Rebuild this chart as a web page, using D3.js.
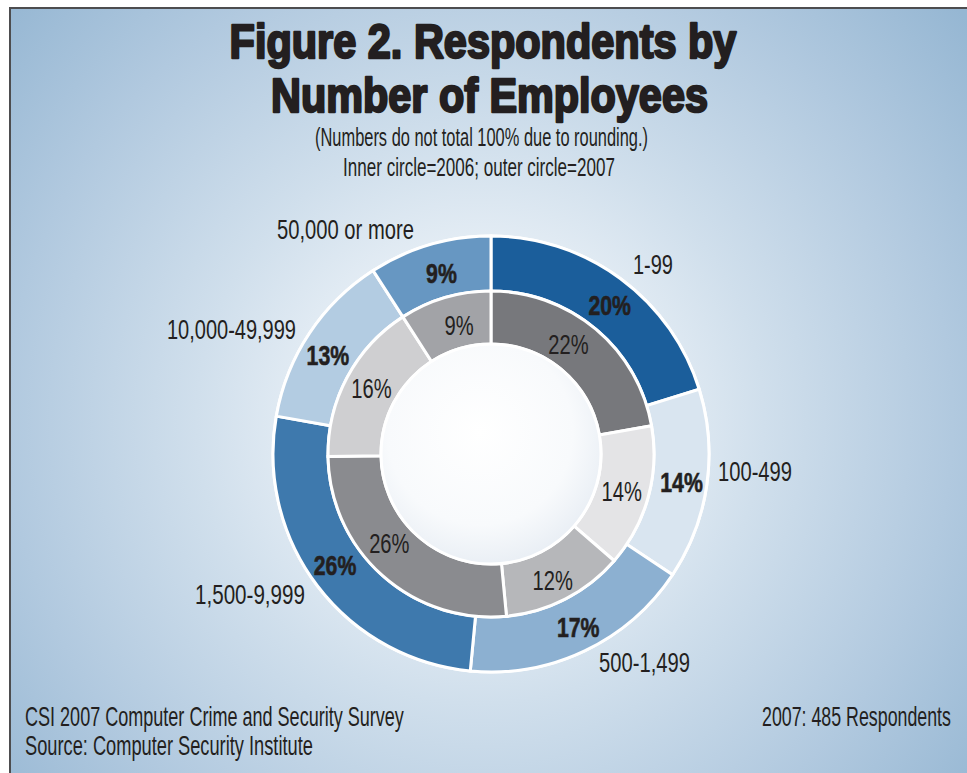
<!DOCTYPE html>
<html>
<head>
<meta charset="utf-8">
<script src="https://cdn.jsdelivr.net/npm/d3@7/dist/d3.min.js"></script>
<style>
  html, body { margin: 0; padding: 0; background: #ffffff; }
  svg { display: block; }
  text { font-family: "Liberation Sans Narrow", "Liberation Sans", Arial, sans-serif; fill: #231f20; }
</style>
</head>
<body>
<svg id="chart" width="967" height="773"></svg>
<script>
// Company size bands (number of employees)
const categories = ["1-99", "100-499", "500-1,499", "1,500-9,999", "10,000-49,999", "50,000 or more"];
// Share of respondents, percent (outer ring = 2007, inner ring = 2006)
const values2007 = [20, 14, 17, 26, 13, 9];
const values2006 = [22, 14, 12, 26, 16, 9];

const outerColors = ["#1b5e9b", "#d9e5f0", "#8cb0d1", "#3e79ad", "#b3cce2", "#6797c2"];
const innerColors = ["#77787c", "#e4e4e6", "#b6b7ba", "#8a8b8f", "#cfcfd1", "#a2a3a7"];

const W = 967, H = 773;
const cx = 491, cy = 454;
const rOuter = [163, 218];
const rInner = [110, 163];

const svg = d3.select("#chart");
const defs = svg.append("defs");

// backdrop: pale centre fading to steel blue towards the edges
const bg = defs.append("radialGradient").attr("id", "bgGrad")
  .attr("gradientUnits", "userSpaceOnUse")
  .attr("cx", 480).attr("cy", 420).attr("r", 630);
[[0, "#ffffff"], [0.12, "#f6f9fc"], [0.45, "#d0dfec"], [0.75, "#b1c9df"], [1, "#96b7d3"]]
  .forEach(([o, c]) => bg.append("stop").attr("offset", o).attr("stop-color", c));

const hole = defs.append("radialGradient").attr("id", "holeGrad")
  .attr("cx", "0.45").attr("cy", "0.4").attr("r", "0.65");
[[0, "#ffffff"], [0.65, "#f8fafc"], [1, "#e6ecf3"]]
  .forEach(([o, c]) => hole.append("stop").attr("offset", o).attr("stop-color", c));

svg.append("rect").attr("x", 10).attr("y", 8).attr("width", W - 10).attr("height", H - 8)
  .attr("fill", "url(#bgGrad)");
svg.append("path").attr("d", `M10,${H} L10,8 L${W},8`)
  .attr("fill", "none").attr("stroke", "#4d4d4f").attr("stroke-width", 2);

// text helper: condensed type, squeezed horizontally to a given width
function fitted(parent, str, x, y, size, width, opts = {}) {
  const g = parent.append("g");
  const t = g.append("text")
    .attr("font-size", size)
    .attr("text-anchor", opts.anchor || "start")
    .attr("font-weight", opts.weight || "normal")
    .text(str);
  if (opts.stroke) t.attr("stroke", "#231f20").attr("stroke-width", opts.stroke).attr("stroke-linejoin", "round");
  const natural = t.node().getComputedTextLength();
  const sx = width ? width / natural : 1;
  g.attr("transform", `translate(${x},${y}) scale(${sx},1)`);
  return t;
}

// Title block
const head = svg.append("g");
fitted(head, "Figure 2. Respondents by", 483, 58, 48, 507, { anchor: "middle", weight: "bold", stroke: 2.4 });
fitted(head, "Number of Employees", 489.5, 112, 48, 437, { anchor: "middle", weight: "bold", stroke: 2.4 });
fitted(head, "(Numbers do not total 100% due to rounding.)", 481.5, 146, 26, 333, { anchor: "middle" });
fitted(head, "Inner circle=2006; outer circle=2007", 479, 176, 26, 272, { anchor: "middle" });

// Rings
const pie = d3.pie().sort(null).value(d => d.v).startAngle(0).endAngle(2 * Math.PI);
const outerData = pie(categories.map((c, i) => ({ c, v: values2007[i], i })));
const innerData = pie(categories.map((c, i) => ({ c, v: values2006[i], i })));

const arcOuter = d3.arc().innerRadius(rOuter[0]).outerRadius(rOuter[1]);
const arcInner = d3.arc().innerRadius(rInner[0]).outerRadius(rInner[1]);

const ring = svg.append("g").attr("transform", `translate(${cx},${cy})`);

ring.append("circle").attr("r", rOuter[1] + 1.5).attr("fill", "#ffffff");

ring.selectAll("path.outer").data(outerData).join("path")
  .attr("class", "outer")
  .attr("d", arcOuter)
  .attr("fill", d => outerColors[d.data.i])
  .attr("stroke", "#ffffff").attr("stroke-width", 3);

ring.selectAll("path.inner").data(innerData).join("path")
  .attr("class", "inner")
  .attr("d", arcInner)
  .attr("fill", d => innerColors[d.data.i])
  .attr("stroke", "#ffffff").attr("stroke-width", 3);

ring.append("circle").attr("r", rInner[0])
  .attr("fill", "url(#holeGrad)")
  .attr("stroke", "#ffffff").attr("stroke-width", 3);

// Percentage labels near each segment's centroid, with small hand offsets
const pctOuter = d3.arc().innerRadius(rOuter[0] + 2).outerRadius(rOuter[1] + 4);
const pctInner = d3.arc().innerRadius(rInner[0]).outerRadius(rInner[1] - 4);
const outerNudge = [[4, 7], [-1, 0], [4, -2], [-2, -6], [-2, 8], [5, 5]];
const innerNudge = [[-9, -7], [1, 1], [0, 6], [-12, -11], [-1, -3], [6, 0]];

function pctLabels(data, arcGen, nudge, weight, squeeze) {
  ring.selectAll(null).data(data).join("g")
    .attr("transform", d => {
      const [x, y] = arcGen.centroid(d);
      const [nx, ny] = nudge[d.data.i];
      return `translate(${x + nx},${y + ny}) scale(${squeeze},1)`;
    })
    .append("text")
    .attr("text-anchor", "middle")
    .attr("dy", "0.36em")
    .attr("font-size", 28)
    .attr("font-weight", weight)
    .attr("stroke", weight === "bold" ? "#231f20" : "none")
    .attr("stroke-width", 0.6)
    .text(d => d.data.v + "%");
}
pctLabels(outerData, pctOuter, outerNudge, "bold", 0.76);
pctLabels(innerData, pctInner, innerNudge, "normal", 0.72);

// Category names placed around the outer ring
const catLabelPos = {
  "1-99":            { x: 633, y: 274, w: 40 },
  "100-499":         { x: 718, y: 481, w: 74 },
  "500-1,499":       { x: 599, y: 672, w: 91 },
  "1,500-9,999":     { x: 195, y: 604, w: 110 },
  "10,000-49,999":   { x: 167, y: 339, w: 129 },
  "50,000 or more":  { x: 277, y: 239, w: 137 }
};
const catG = svg.append("g");
categories.forEach(c => {
  const p = catLabelPos[c];
  fitted(catG, c, p.x, p.y, 27.5, p.w);
});

// Footer
const foot = svg.append("g");
fitted(foot, "CSI 2007 Computer Crime and Security Survey", 25, 726, 27, 379);
fitted(foot, "Source: Computer Security Institute", 25, 755, 27, 288);
fitted(foot, "2007: 485 Respondents", 762, 726, 27, 189);
</script>
</body>
</html>
